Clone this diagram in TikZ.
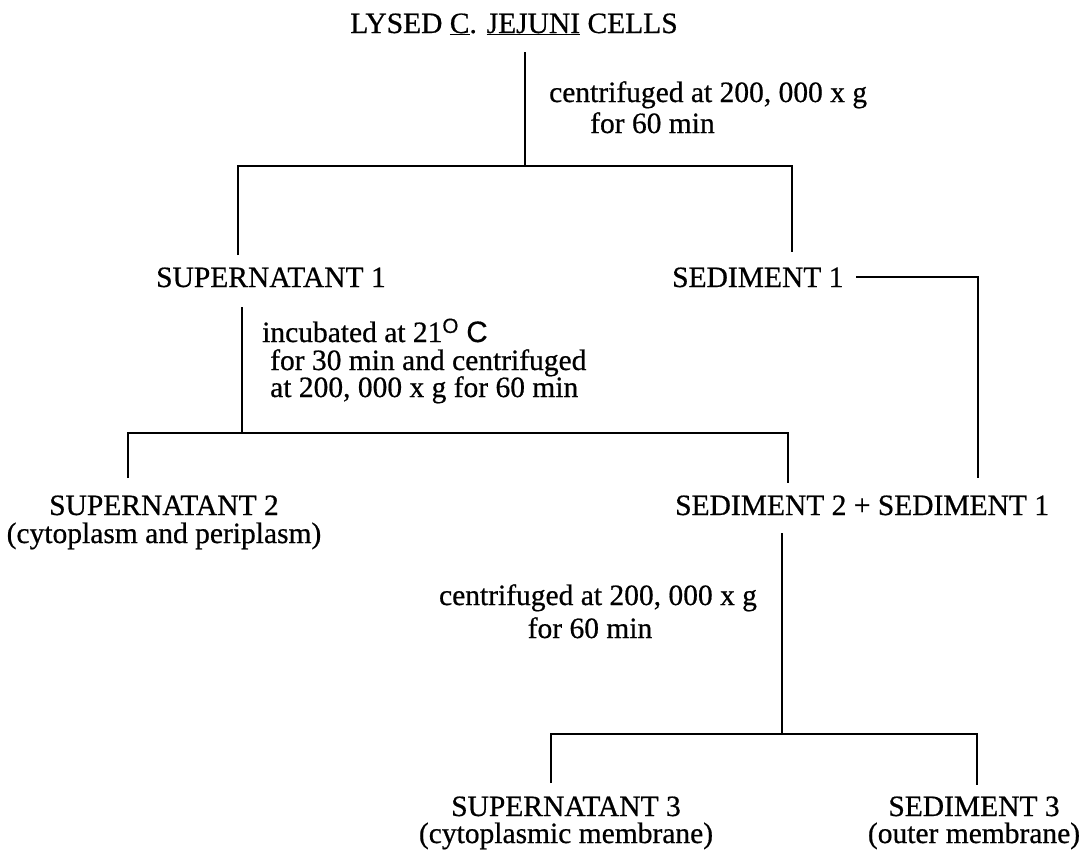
\documentclass[tikz,border=0pt]{standalone}
\usepackage{fontspec}
\setmainfont[FakeBold=0.6]{Liberation Serif}
\setsansfont[FakeBold=0.6]{Liberation Sans}
\begin{document}
\begin{tikzpicture}[x=1pt,y=-1pt,
  txt/.style={font=\fontsize{29.5}{31}\selectfont, inner sep=0pt, anchor=base},
  txtl/.style={txt, anchor=base west},
  conn/.style={line width=2.8pt, line join=miter}]
\useasboundingbox (0,0) rectangle (1091,854);
% texts
\node[txt] (lysed) at (514,33) {LYSED \underline{C}. \underline{JEJUNI} CELLS};
\node[txtl] (c1a) at (549,102) {centrifuged at 200, 000 x g};
\node[txtl] (c1b) at (590,133) {for 60 min};
\node[txtl] (sup1) at (156,287) {SUPERNATANT 1};
\node[txtl] (sed1) at (672,287) {SEDIMENT 1};
\node[txtl] (inc1) at (262,342) {incubated at 21\textsuperscript{\sffamily O} {\sffamily C}};
\node[txtl] (inc2) at (270,370) {for 30 min and centrifuged};
\node[txtl] (inc3) at (270,397) {at 200, 000 x g for 60 min};
\node[txt] (sup2) at (164,515) {SUPERNATANT 2};
\node[txt] (sup2n) at (164,543) {(cytoplasm and periplasm)};
\node[txtl] (sed21) at (675,515) {SEDIMENT 2 + SEDIMENT 1};
\node[txt] (c3a) at (598,605) {centrifuged at 200, 000 x g};
\node[txt] (c3b) at (590,638) {for 60 min};
\node[txt] (sup3) at (566,816) {SUPERNATANT 3};
\node[txt] (sup3n) at (566,843) {(cytoplasmic membrane)};
\node[txt] (sed3) at (974,816) {SEDIMENT 3};
\node[txt] (sed3n) at (974,843) {(outer membrane)};
% junction coordinates
\coordinate (t0) at (525,52);
\coordinate (t1) at (525,166);
\coordinate (s1top) at (238,255);
\coordinate (d1top) at (792,252);
\coordinate (u1) at (242,307);
\coordinate (u2) at (242,433);
\coordinate (s2top) at (128,478);
\coordinate (d2top) at (788,483);
\coordinate (r0) at (856,277);
\coordinate (r1) at (978,478);
\coordinate (v1) at (782,533);
\coordinate (v2) at (782,734);
\coordinate (s3top) at (551,783);
\coordinate (d3top) at (977,785);
% connectors
\draw[conn] (t0) -- (t1);
\draw[conn] (s1top) -- (s1top |- t1) -- (d1top |- t1) -- (d1top);
\draw[conn] (u1) -- (u2);
\draw[conn] (s2top) -- (s2top |- u2) -- (d2top |- u2) -- (d2top);
\draw[conn] (r0) -| (r1);
\draw[conn] (v1) -- (v2);
\draw[conn] (s3top) -- (s3top |- v2) -- (d3top |- v2) -- (d3top);
\end{tikzpicture}
\end{document}
